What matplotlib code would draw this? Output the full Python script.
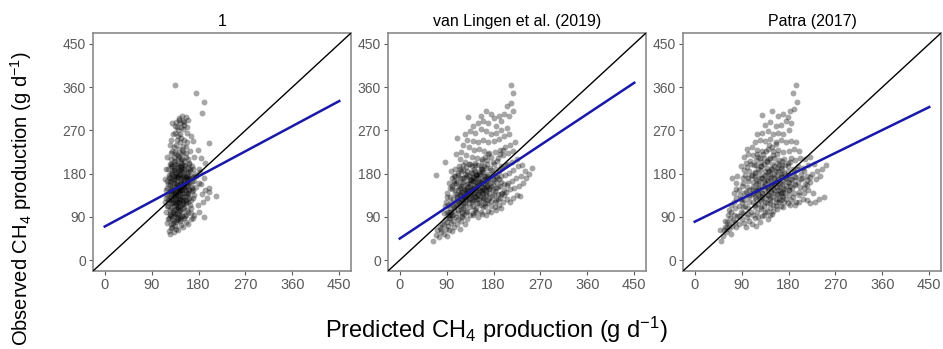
import numpy as np
import matplotlib
matplotlib.use("Agg")
import matplotlib.pyplot as plt
from matplotlib import font_manager

# --- Dados ---
titles = ["1", "van Lingen et al. (2019)", "Patra (2017)"]
ticks = [0, 90, 180, 270, 360, 450]
fit_intercept = [70, 45, 80]
fit_slope = [0.58, 0.72, 0.53]

# (predito, observado) em g/d - pontos espalhados
pts_1 = [
    (134, 365), (176, 348), (191, 328), (186, 306), (142, 296), (148, 300), (155, 297), (160, 292),
    (137, 288), (145, 285), (152, 282), (150, 272), (140, 270), (131, 262), (158, 265), (165, 258),
    (147, 255), (138, 250), (170, 248), (201, 244), (125, 240), (132, 236), (143, 232), (156, 236),
    (163, 228), (178, 230), (150, 225), (128, 222), (140, 218), (120, 215), (172, 214), (185, 212),
    (160, 210), (146, 208), (133, 205), (192, 203), (125, 200), (152, 198), (168, 196), (138, 194),
    (118, 190), (180, 190), (145, 188), (130, 186), (160, 184), (173, 180), (124, 178), (150, 176),
    (140, 174), (135, 170), (190, 170), (116, 168), (158, 168), (128, 165), (167, 164), (147, 162),
    (180, 160), (122, 158), (138, 156), (155, 155), (130, 152), (175, 152), (200, 150), (143, 148),
    (118, 146), (162, 145), (126, 143), (150, 140), (135, 138), (186, 138), (201, 142), (214, 133),
    (120, 135), (158, 133), (170, 130), (128, 128), (145, 128), (138, 124), (115, 122), (160, 122),
    (130, 118), (150, 116), (178, 115), (122, 112), (140, 110), (165, 108), (132, 104), (118, 100),
    (148, 100), (156, 95), (125, 94), (138, 90), (191, 90), (170, 88), (130, 85), (145, 82),
    (120, 78), (160, 75), (135, 72), (127, 66), (150, 68), (123, 60), (126, 55), (133, 58),
    (140, 62), (128, 195), (136, 182), (142, 178), (148, 172), (132, 160), (140, 150), (146, 155),
    (152, 160), (128, 148), (134, 142), (141, 136), (149, 132), (155, 126), (131, 130), (124, 125),
    (137, 115), (143, 120), (150, 108), (127, 108), (134, 96), (143, 94), (152, 88), (129, 180),
    (137, 200), (144, 196), (152, 190), (158, 176), (163, 170), (132, 175), (126, 170), (139, 165),
    (145, 145), (153, 150), (160, 140), (137, 130), (142, 102), (128, 138), (133, 188), (148, 185),
    (155, 172), (165, 155), (170, 145), (140, 210), (147, 220), (135, 225), (155, 215), (162, 200),
    (170, 190), (127, 210), (132, 215), (158, 245), (152, 250), (145, 262), (139, 278), (135, 280),
    (150, 290), (120, 165), (119, 150), (117, 130), (124, 88), (128, 75), (136, 80), (146, 74),
    (132, 92), (140, 86), (155, 118), (160, 100), (166, 125), (172, 165), (176, 175), (182, 183),
    (185, 158), (193, 145), (196, 130), (188, 120), (180, 100), (172, 95), (165, 85), (155, 80),
    (148, 92),
]
# núcleo denso do painel 1
nucleo_1 = [
    (131, 101), (137, 107), (144, 113), (151, 121), (127, 119), (134, 126), (141, 133), (148, 139),
    (155, 145), (129, 144), (136, 149), (143, 157), (150, 163), (157, 169), (130, 168), (138, 173),
    (145, 179), (152, 186), (159, 192), (133, 191), (140, 197), (147, 203), (125, 157), (132, 134),
    (139, 141), (146, 147), (153, 153), (160, 159), (127, 182), (134, 188), (141, 111), (148, 117),
    (155, 123), (162, 129), (126, 96), (133, 99), (140, 106), (147, 86), (154, 92), (122, 86),
    (129, 70), (136, 65), (131, 78), (138, 83), (145, 89), (125, 104), (132, 113), (139, 119),
    (146, 125), (153, 131), (160, 137), (167, 143), (124, 138), (131, 146), (138, 152), (145, 158),
    (152, 164), (159, 170), (166, 176), (126, 162), (133, 167), (140, 183), (147, 190), (154, 196),
    (161, 202), (128, 200), (135, 207), (142, 214), (149, 229), (156, 222), (137, 240), (144, 246),
    (130, 228), (151, 238), (127, 250), (141, 258), (134, 265), (146, 276), (153, 288), (142, 292),
    (129, 286), (157, 276), (164, 185), (169, 172), (162, 163), (168, 150), (163, 114), (158, 105),
    (171, 136), (165, 98), (121, 126), (119, 112), (123, 174), (121, 190), (135, 118), (142, 128),
    (149, 146), (156, 139), (137, 160), (144, 171), (151, 178), (136, 136), (143, 143), (150, 154),
    (157, 160), (132, 154), (139, 178), (146, 194), (153, 206), (131, 122), (138, 97), (145, 104),
    (152, 111), (159, 148), (135, 176), (142, 187), (149, 199), (128, 131), (133, 82), (127, 92),
    (150, 127), (157, 181), (164, 190), (144, 137), (133, 140), (140, 122), (147, 166), (154, 172),
    (130, 196), (148, 210), (136, 220),
]

pts_2 = [
    (63, 40), (70, 52), (75, 48), (80, 58), (72, 62), (85, 55), (90, 50), (88, 65), (78, 70),
    (95, 62), (82, 75), (92, 72), (100, 60), (98, 78), (105, 68), (86, 85), (94, 88), (102, 82),
    (110, 75), (108, 90), (115, 65), (118, 82), (112, 98), (100, 95), (90, 100), (84, 98), (96, 108),
    (104, 104), (120, 92), (125, 75), (130, 85), (128, 100), (122, 108), (115, 112), (108, 115),
    (98, 120), (92, 115), (88, 122), (102, 128), (110, 125), (118, 120), (126, 118), (134, 110),
    (140, 95), (145, 105), (150, 90), (155, 100), (160, 110), (148, 118), (138, 122), (132, 128),
    (124, 132), (116, 135), (106, 138), (96, 132), (90, 140), (100, 148), (112, 145), (120, 142),
    (128, 140), (136, 138), (144, 132), (152, 128), (160, 125), (168, 118), (175, 112), (182, 120),
    (190, 115), (198, 122), (205, 128), (212, 120), (218, 130), (225, 135), (230, 134), (175, 100),
    (165, 95), (185, 105), (195, 108), (86, 204), (70, 177), (95, 160), (104, 158), (110, 165),
    (118, 155), (124, 150), (130, 158), (138, 150), (146, 145), (152, 150), (158, 140), (165, 135),
    (172, 140), (180, 135), (188, 138), (196, 140), (204, 142), (212, 148), (220, 150), (228, 155),
    (236, 160), (242, 170), (253, 192), (248, 180), (240, 185), (232, 175), (224, 170), (216, 165),
    (208, 160), (200, 158), (192, 155), (184, 150), (176, 155), (168, 152), (160, 158), (152, 165),
    (144, 162), (136, 168), (128, 172), (120, 170), (112, 178), (104, 175), (98, 185), (106, 190),
    (114, 195), (122, 188), (130, 185), (138, 182), (146, 178), (154, 180), (162, 175), (170, 170),
    (178, 168), (186, 172), (194, 175), (202, 178), (210, 182), (218, 188), (226, 195), (234, 198),
    (225, 210), (215, 205), (205, 200), (195, 195), (185, 190), (175, 188), (165, 192), (155, 195),
    (145, 198), (135, 200), (125, 205), (115, 210), (108, 220), (118, 225), (128, 218), (138, 215),
    (148, 212), (158, 210), (168, 208), (178, 205), (188, 212), (198, 218), (208, 222), (218, 228),
    (222, 245), (212, 240), (202, 235), (192, 230), (182, 225), (172, 222), (162, 228), (152, 232),
    (142, 230), (132, 235), (122, 240), (130, 250), (140, 248), (150, 245), (160, 250), (170, 245),
    (180, 248), (190, 252), (200, 258), (210, 262), (205, 275), (195, 270), (185, 265), (175, 262),
    (165, 268), (155, 272), (145, 265), (135, 268), (125, 262), (110, 255), (131, 298), (150, 285),
    (160, 290), (170, 285), (180, 295), (190, 300), (200, 305), (210, 300), (218, 310), (214, 365),
    (217, 348), (213, 327), (205, 320), (195, 290), (185, 280), (175, 305), (165, 310), (155, 300),
    (140, 280), (115, 150), (122, 162), (130, 145), (135, 155), (142, 140), (148, 155), (155, 160),
    (162, 150), (140, 165), (132, 175), (125, 180), (118, 185), (145, 185), (150, 170), (158, 185),
    (165, 165), (170, 180), (115, 170), (108, 160), (100, 170), (127, 130), (135, 135), (142, 125),
    (150, 135), (157, 145), (162, 130), (170, 125), (178, 145), (185, 125), (192, 130), (200, 135),
    (120, 100), (112, 105), (103, 115), (96, 95), (140, 112), (147, 100), (155, 115), (163, 118),
    (172, 130), (110, 135), (118, 128),
]
nucleo_2 = [
    (121, 131), (127, 137), (133, 143), (139, 149), (145, 155), (151, 161), (157, 167), (163, 173),
    (117, 141), (123, 147), (129, 153), (135, 159), (141, 165), (147, 171), (153, 177), (159, 183),
    (113, 121), (119, 127), (125, 133), (131, 139), (137, 145), (143, 151), (149, 157), (155, 163),
    (161, 169), (167, 175), (126, 113), (132, 119), (138, 125), (144, 131), (150, 137), (156, 143),
    (162, 149), (168, 155), (174, 161), (180, 167), (109, 131), (115, 137), (134, 166), (140, 172),
    (146, 178), (152, 184), (158, 190), (124, 171), (130, 177), (136, 183), (142, 189), (105, 111),
    (111, 117), (117, 107), (123, 97), (129, 103), (135, 93), (141, 99), (147, 109), (153, 119),
    (159, 129), (165, 139), (171, 149), (177, 133), (183, 143), (189, 153), (195, 163), (176, 123),
    (182, 111), (188, 127), (194, 137), (200, 147), (206, 157), (170, 103), (164, 113), (158, 97),
    (99, 101), (93, 93), (107, 145), (113, 155), (119, 161), (101, 155), (107, 175), (128, 125),
    (134, 129), (140, 135), (146, 141), (152, 147), (158, 153), (164, 159), (170, 165), (122, 119),
    (128, 149), (148, 127), (154, 133), (160, 139), (166, 145), (172, 151), (178, 157), (184, 163),
    (190, 169), (131, 161), (137, 167), (143, 173), (149, 179), (155, 189), (161, 195), (167, 201),
    (173, 191), (179, 181), (185, 175), (191, 185), (197, 191), (203, 197), (145, 203), (151, 197),
    (157, 207), (163, 215), (169, 221), (175, 215), (181, 201), (187, 207), (193, 221), (199, 229),
    (139, 195), (133, 201), (127, 193), (121, 199), (115, 189), (111, 181), (105, 165), (97, 151),
    (91, 131), (87, 113), (95, 101), (103, 93), (111, 85), (119, 89), (85, 75), (79, 65),
    (91, 79), (97, 87),
]

pts_3 = [
    (51, 40), (55, 50), (60, 58), (48, 62), (58, 70), (65, 65), (70, 55), (72, 72), (62, 80),
    (68, 88), (78, 80), (80, 68), (85, 75), (75, 95), (82, 92), (90, 85), (88, 100), (95, 78),
    (100, 90), (98, 70), (105, 82), (110, 75), (115, 88), (108, 100), (102, 108), (92, 110),
    (85, 112), (78, 108), (70, 115), (65, 105), (118, 72), (125, 80), (130, 92), (135, 100),
    (140, 85), (145, 95), (150, 102), (120, 100), (128, 110), (115, 115), (105, 120), (95, 125),
    (88, 128), (80, 130), (75, 140), (85, 145), (95, 140), (105, 135), (115, 132), (125, 128),
    (135, 122), (145, 118), (155, 112), (162, 120), (170, 110), (178, 118), (185, 125), (192, 115),
    (200, 120), (208, 128), (215, 125), (222, 118), (230, 122), (238, 128), (248, 131), (226, 140),
    (218, 145), (210, 140), (200, 135), (190, 140), (180, 135), (170, 132), (160, 138), (150, 140),
    (140, 135), (130, 140), (120, 145), (110, 148), (100, 152), (90, 155), (80, 160), (72, 170),
    (82, 175), (92, 170), (102, 165), (112, 162), (122, 160), (132, 155), (142, 152), (152, 158),
    (162, 155), (172, 150), (182, 155), (192, 158), (202, 152), (212, 158), (222, 162), (232, 168),
    (240, 175), (251, 199), (244, 190), (235, 185), (225, 180), (215, 175), (205, 170), (195, 172),
    (185, 168), (175, 170), (165, 172), (155, 175), (145, 170), (135, 175), (125, 178), (115, 182),
    (105, 185), (95, 188), (88, 195), (98, 202), (108, 200), (118, 198), (128, 195), (138, 192),
    (148, 190), (158, 192), (168, 188), (178, 185), (188, 190), (198, 195), (208, 192), (218, 198),
    (228, 200), (222, 215), (212, 210), (202, 212), (192, 208), (182, 205), (172, 210), (162, 208),
    (152, 212), (142, 210), (132, 212), (122, 215), (112, 218), (102, 220), (95, 215), (100, 232),
    (110, 235), (120, 230), (130, 228), (140, 232), (150, 228), (160, 230), (170, 225), (180, 228),
    (190, 232), (200, 228), (195, 245), (185, 248), (175, 245), (165, 250), (155, 245), (145, 252),
    (135, 248), (125, 250), (115, 245), (120, 262), (130, 265), (140, 268), (150, 262), (160, 265),
    (170, 262), (180, 270), (185, 285), (175, 290), (165, 282), (155, 280), (145, 288), (135, 282),
    (129, 302), (148, 311), (160, 300), (170, 305), (178, 298), (195, 365), (188, 348), (196, 329),
    (190, 315), (182, 310), (118, 168), (128, 170), (138, 165), (148, 160), (158, 165), (168, 160),
    (178, 162), (135, 185), (145, 180), (155, 185), (165, 180), (175, 178), (125, 188), (115, 172),
    (108, 175), (130, 132), (140, 145), (150, 150), (160, 145), (170, 142), (180, 145), (145, 130),
    (155, 128), (165, 125), (175, 128), (122, 138), (112, 140), (138, 205), (148, 200), (158, 202),
    (168, 198), (178, 195), (128, 205), (118, 208), (165, 140), (152, 170), (142, 185), (132, 165),
    (122, 150),
]
nucleo_3 = [
    (111, 121), (117, 127), (123, 133), (129, 139), (135, 145), (141, 151), (147, 157), (153, 163),
    (159, 169), (165, 175), (171, 181), (105, 131), (111, 137), (117, 143), (123, 149), (129, 155),
    (135, 161), (141, 167), (147, 173), (153, 179), (159, 185), (165, 191), (99, 141), (105, 147),
    (111, 153), (117, 159), (123, 165), (129, 171), (135, 177), (141, 183), (147, 189), (153, 195),
    (116, 111), (122, 117), (128, 123), (134, 129), (140, 135), (146, 141), (152, 147), (158, 153),
    (164, 159), (170, 165), (176, 171), (182, 177), (127, 107), (133, 113), (139, 119), (145, 125),
    (151, 131), (157, 137), (163, 143), (169, 149), (175, 155), (181, 161), (187, 167), (193, 173),
    (138, 103), (144, 109), (150, 115), (156, 121), (162, 127), (168, 133), (174, 139), (180, 145),
    (186, 151), (192, 157), (198, 163), (204, 169), (103, 171), (109, 177), (115, 183), (121, 189),
    (127, 195), (133, 201), (139, 207), (145, 213), (151, 219), (157, 221), (93, 161), (97, 177),
    (101, 193), (107, 207), (113, 199), (119, 221), (125, 213), (131, 221), (137, 227), (143, 239),
    (149, 235), (155, 241), (161, 199), (167, 207), (173, 197), (179, 203), (185, 213), (191, 183),
    (197, 189), (203, 179), (209, 185), (215, 167), (221, 173), (210, 151), (216, 157), (200, 141),
    (188, 131), (194, 121), (182, 115), (172, 121), (166, 113), (158, 107), (148, 97), (132, 93),
    (122, 89), (112, 93), (102, 97), (96, 113), (90, 121), (86, 135), (80, 149), (76, 121),
    (70, 101), (64, 93), (59, 81), (66, 75), (74, 83), (84, 91), (92, 99), (62, 69),
    (56, 63),
]

painel_pts = [pts_1 + nucleo_1, pts_2 + nucleo_2, pts_3 + nucleo_3]

# --- Fontes ---
instaladas = {f.name for f in font_manager.fontManager.ttflist}
fonte = "Liberation Sans"
fonte_estreita = "Liberation Sans Narrow" if "Liberation Sans Narrow" in instaladas else fonte
plt.rcParams["font.family"] = fonte
plt.rcParams["mathtext.fontset"] = "custom"
plt.rcParams["mathtext.rm"] = fonte
plt.rcParams["mathtext.it"] = fonte + ":italic"

cinza = "#5a5a5a"
azul = "#1818aa"

fig = plt.figure(figsize=(9.43, 3.49), dpi=100)

# posições dos painéis em pixels (esquerda, largura)
lefts = [93, 388, 683]
larg = 258
base = (349 - 271) / 349
altura = 238 / 349

for i, pts in enumerate(painel_pts):
    ax = fig.add_axes([lefts[i] / 943, base, larg / 943, altura])
    arr = np.array(pts, dtype=float)

    ax.scatter(arr[:, 0], arr[:, 1], s=18, color="black", alpha=0.35, linewidths=0, zorder=2)
    ax.axline((0, 0), slope=1, color="black", lw=1.0, zorder=3)

    xs = np.array([0, 450])
    ax.plot(xs, fit_intercept[i] + fit_slope[i] * xs, color=azul, lw=1.8, zorder=4)

    ax.set_xlim(-22.5, 472.5)
    ax.set_ylim(-22.5, 472.5)
    ax.set_xticks(ticks)
    ax.set_yticks(ticks)
    ax.set_xticklabels([str(t) for t in ticks], fontsize=10.5, color=cinza, family=fonte_estreita)
    ax.set_yticklabels([str(t) for t in ticks], fontsize=10, color=cinza)
    ax.tick_params(length=3, width=0.8, color=cinza, pad=2)
    for sp in ax.spines.values():
        sp.set_color("#8a8a8a")
        sp.set_linewidth(1.2)
    ax.set_title(titles[i], fontsize=11.5, pad=5)

fig.text(0.022, 0.43, r"Observed CH$\mathregular{_4}$ production (g d$\mathregular{^{-1}}$)",
         rotation=90, ha="center", va="center", fontsize=14.5)
fig.text(0.527, 0.055, r"Predicted CH$\mathregular{_4}$ production (g d$\mathregular{^{-1}}$)",
         ha="center", va="center", fontsize=17, family=fonte_estreita)

fig.savefig("out.png", dpi=100)
